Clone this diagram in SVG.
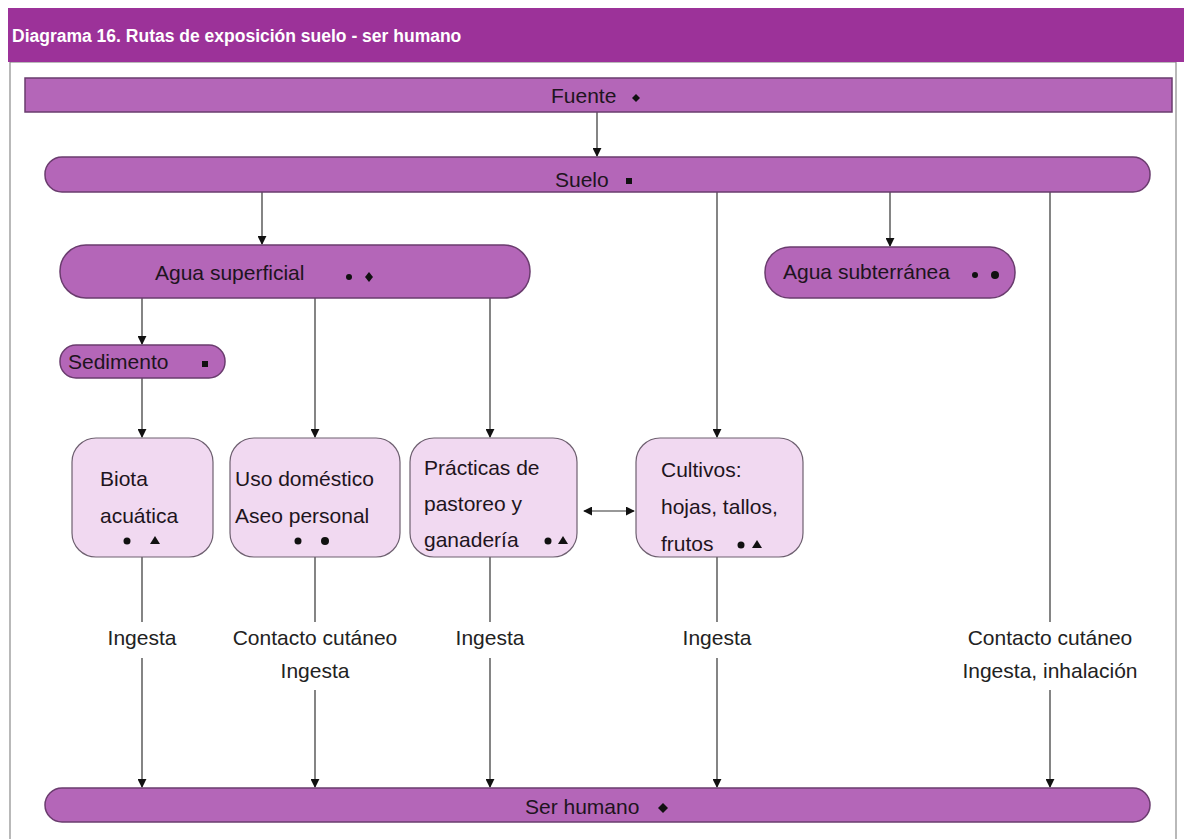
<svg xmlns="http://www.w3.org/2000/svg" width="1184" height="839" viewBox="0 0 1184 839">
<defs>
<marker id="ah" viewBox="0 0 10 10" refX="9" refY="5" markerWidth="9" markerHeight="9" orient="auto-start-reverse" markerUnits="userSpaceOnUse">
<path d="M0,0 L10,5 L0,10 z" fill="#111"/>
</marker>
<style>
.bar{fill:#b466b8;stroke:#6a3c6e;stroke-width:1.5}
.box{fill:#f1d9f1;stroke:#6e6070;stroke-width:1.2}
.t{font-family:"Liberation Sans",Arial,sans-serif;font-size:21px;fill:#1e1420}
.lbl{font-family:"Liberation Sans",Arial,sans-serif;font-size:21px;fill:#222;text-anchor:middle}
.c{stroke:#333;stroke-width:1.2;fill:none;marker-end:url(#ah)}
.p{stroke:#333;stroke-width:1.2;fill:none}
.m{fill:#111}
</style>
</defs>
<rect x="0" y="0" width="1184" height="839" fill="#ffffff"/>
<rect x="10" y="62" width="1166" height="790" fill="none" stroke="#8a8a8a" stroke-width="1.2"/>
<g id="title">
<rect x="8" y="8" width="1176" height="54" fill="#9c3299"/>
<text x="12" y="42" font-family="Liberation Sans,Arial,sans-serif" font-size="17.5" font-weight="bold" fill="#ffffff">Diagrama 16. Rutas de exposición suelo - ser humano</text>
</g>
<g id="connectors">
<line class="c" x1="597" y1="112" x2="597" y2="156"/>
<line class="c" x1="262" y1="192" x2="262" y2="244"/>
<line class="c" x1="717" y1="192" x2="717" y2="437"/>
<line class="c" x1="890" y1="192" x2="890" y2="246"/>
<line class="p" x1="1050" y1="192" x2="1050" y2="622"/>
<line class="c" x1="1050" y1="690" x2="1050" y2="787"/>
<line class="c" x1="142" y1="298" x2="142" y2="344"/>
<line class="c" x1="142" y1="378" x2="142" y2="437"/>
<line class="c" x1="315" y1="298" x2="315" y2="437"/>
<line class="c" x1="490" y1="298" x2="490" y2="437"/>
<line class="c" x1="584" y1="511" x2="634" y2="511" marker-start="url(#ah)"/>
<line class="p" x1="142" y1="557" x2="142" y2="622"/>
<line class="c" x1="142" y1="658" x2="142" y2="787"/>
<line class="p" x1="315" y1="557" x2="315" y2="622"/>
<line class="c" x1="315" y1="690" x2="315" y2="787"/>
<line class="p" x1="490" y1="557" x2="490" y2="622"/>
<line class="c" x1="490" y1="658" x2="490" y2="787"/>
<line class="p" x1="717" y1="557" x2="717" y2="622"/>
<line class="c" x1="717" y1="658" x2="717" y2="787"/>
<text class="lbl" x="142" y="645">Ingesta</text>
<text class="lbl" x="315" y="645">Contacto cutáneo</text>
<text class="lbl" x="315" y="678">Ingesta</text>
<text class="lbl" x="490" y="645">Ingesta</text>
<text class="lbl" x="717" y="645">Ingesta</text>
<text class="lbl" x="1050" y="645">Contacto cutáneo</text>
<text class="lbl" x="1050" y="678">Ingesta, inhalación</text>
</g>
<g id="fuente">
<rect class="bar" x="25" y="78" width="1147" height="34"/>
<text class="t" x="551" y="103">Fuente</text>
<polygon class="m" points="636,94 640,98 636,102 632,98"/>
</g>
<g id="suelo">
<rect class="bar" x="45" y="157" width="1105" height="35" rx="17"/>
<text class="t" x="555" y="187">Suelo</text>
<rect class="m" x="626" y="178" width="6" height="6"/>
</g>
<g id="agua-superficial">
<rect class="bar" x="60" y="245" width="470" height="53" rx="26"/>
<text class="t" x="155" y="280">Agua superficial</text>
<circle class="m" cx="349" cy="277" r="3"/>
<polygon class="m" points="369,272 373,277 369,282 365,277"/>
</g>
<g id="agua-subterranea">
<rect class="bar" x="765" y="247" width="250" height="51" rx="25"/>
<text class="t" x="783" y="279">Agua subterránea</text>
<circle class="m" cx="975" cy="275" r="3"/>
<circle class="m" cx="995" cy="275" r="4"/>
</g>
<g id="sedimento">
<rect class="bar" x="60" y="345" width="165" height="33" rx="16"/>
<text class="t" x="68" y="369">Sedimento</text>
<rect class="m" x="202" y="361" width="6" height="6"/>
</g>
<g id="biota">
<rect class="box" x="72" y="438" width="141" height="119" rx="24"/>
<text class="t" x="100" y="486">Biota</text>
<text class="t" x="100" y="523">acuática</text>
<circle class="m" cx="127" cy="541" r="3.5"/>
<polygon class="m" points="155,536 160,544 150,544"/>
</g>
<g id="uso-domestico">
<rect class="box" x="230" y="438" width="170" height="119" rx="24"/>
<text class="t" x="235" y="486">Uso doméstico</text>
<text class="t" x="235" y="523">Aseo personal</text>
<circle class="m" cx="298" cy="541" r="3.5"/>
<circle class="m" cx="325" cy="541" r="4"/>
</g>
<g id="practicas">
<rect class="box" x="410" y="438" width="167" height="119" rx="24"/>
<text class="t" x="424" y="475">Prácticas de</text>
<text class="t" x="424" y="511">pastoreo y</text>
<text class="t" x="424" y="547">ganadería</text>
<circle class="m" cx="548" cy="541" r="3.5"/>
<polygon class="m" points="563,536 568,544 558,544"/>
</g>
<g id="cultivos">
<rect class="box" x="636" y="438" width="167" height="119" rx="24"/>
<text class="t" x="661" y="477">Cultivos:</text>
<text class="t" x="661" y="514">hojas, tallos,</text>
<text class="t" x="661" y="551">frutos</text>
<circle class="m" cx="741" cy="545" r="3.5"/>
<polygon class="m" points="757,540 762,548 752,548"/>
</g>
<g id="ser-humano">
<rect class="bar" x="45" y="788" width="1105" height="34" rx="17"/>
<text class="t" x="525" y="814">Ser humano</text>
<polygon class="m" points="663,803 668,808 663,813 658,808"/>
</g>
</svg>
